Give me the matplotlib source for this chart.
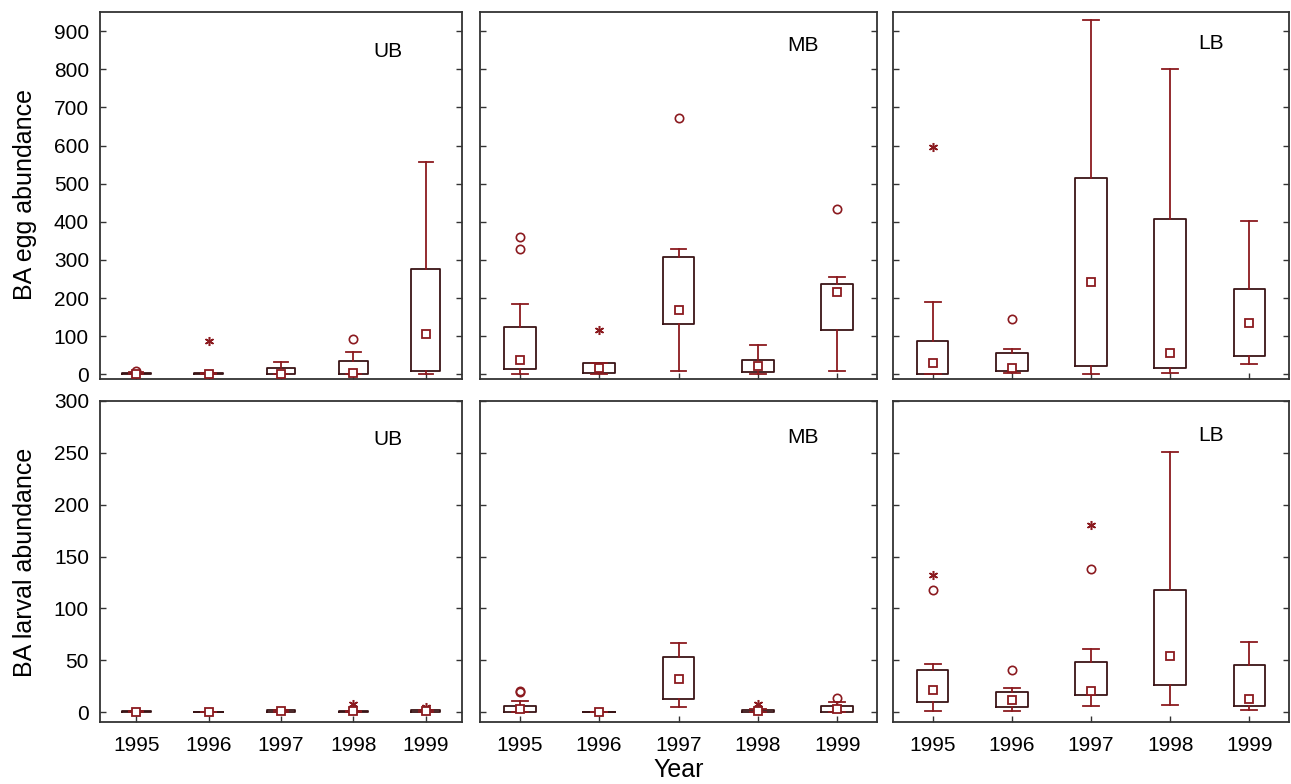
import numpy as np
import matplotlib.pyplot as plt

plt.rcParams['font.family'] = ['Liberation Sans', 'DejaVu Sans']

years = ["1995", "1996", "1997", "1998", "1999"]
basins = ["UB", "MB", "LB"]

# egg abundance: rows = UB, MB, LB ; cols = 1995..1999
egg_med = [[2, 1, 2, 3, 105], [39, 17, 170, 22, 216], [30, 17, 242, 57, 135]]
egg_q1 = [[0, 0, 1, 1, 10], [13, 4, 133, 7, 116], [1, 8, 21, 16, 48]]
egg_q3 = [[4, 3, 16, 34, 276], [124, 30, 308, 39, 236], [88, 56, 514, 407, 224]]
egg_lo = [[0, 0, 0, 0, 0], [1, 0, 10, 1, 8], [0, 5, 1, 3, 27]]
egg_hi = [[6, 3, 32, 60, 558], [185, 31, 330, 76, 255], [191, 66, 929, 801, 402]]
egg_out = [[[10], [], [], [92], []], [[360, 329], [], [673], [], [433]], [[], [146], [], [], []]]
egg_ext = [[[], [88], [], [], []], [[], [116], [], [], []], [[597], [], [], [], []]]

# larval abundance
lar_med = [[0, 0, 1, 1, 1], [3, 0, 32, 1, 3], [21.5, 12, 20, 54, 13]]
lar_q1 = [[0, 0, 0, 0, 0], [0, 0, 13, 0, 0], [10, 5, 17, 26, 6]]
lar_q3 = [[1, 0, 2, 1, 2], [6, 0, 53, 2, 5.5], [41, 19, 48, 118, 45]]
lar_lo = [[0, 0, 0, 0, 0], [0, 0, 5, 0, 0], [1, 1, 6, 7, 2]]
lar_hi = [[1, 0, 2, 1, 2], [11, 0, 67, 3, 10], [46, 23.5, 61, 251, 68]]
lar_out = [[[], [], [], [], []], [[20, 19], [], [], [], [13.5]], [[118], [40.5], [138], [], []]]
lar_ext = [[[], [], [], [8], [5]], [[], [], [], [8], []], [[132], [], [180], [], []]]

box_col = "#3a1416"
whisk_col = "#8b1a1f"

W, H = 1291, 784
cols_px = [(100, 462), (480, 877), (893, 1289)]
rows_px = [(12, 379), (401, 722)]
# basin label positions (axes fraction)
lab_x = [0.796, 0.814, 0.803]
lab_y = [[0.892, 0.908, 0.913], [0.879, 0.885, 0.891]]

fig = plt.figure(figsize=(W / 100, H / 100), dpi=100)


def draw_panel(ax, med, q1, q3, lo, hi, out, ext):
    stats = []
    for i in range(len(years)):
        stats.append(dict(med=med[i], q1=q1[i], q3=q3[i], whislo=lo[i],
                          whishi=hi[i], fliers=out[i], label=years[i]))
    ax.bxp(stats, positions=np.arange(1, 6), widths=0.4,
           boxprops=dict(color=box_col, linewidth=1.3),
           whiskerprops=dict(color=whisk_col, linewidth=1.3),
           capprops=dict(color=whisk_col, linewidth=1.3),
           medianprops=dict(visible=False),
           flierprops=dict(marker='o', markerfacecolor='none', markeredgecolor=whisk_col,
                           markersize=6, markeredgewidth=1.2),
           capwidths=0.2)
    ax.plot(np.arange(1, 6), med, linestyle='none', marker='s', markersize=6,
            markerfacecolor='white', markeredgecolor=whisk_col, markeredgewidth=1.3, zorder=5)
    for i, vals in enumerate(ext):
        if vals:
            ax.plot([i + 1] * len(vals), vals, linestyle='none', marker=(6, 2, 0),
                    markersize=6.5, color=whisk_col, markeredgewidth=1.1)


for r, (y0, y1) in enumerate(rows_px):
    for c, (x0, x1) in enumerate(cols_px):
        ax = fig.add_axes([x0 / W, 1 - y1 / H, (x1 - x0) / W, (y1 - y0) / H])
        if r == 0:
            draw_panel(ax, egg_med[c], egg_q1[c], egg_q3[c], egg_lo[c], egg_hi[c], egg_out[c], egg_ext[c])
            ax.set_ylim(-12, 950)
            ax.set_yticks(np.arange(0, 901, 100))
            ax.set_xticklabels([])
        else:
            draw_panel(ax, lar_med[c], lar_q1[c], lar_q3[c], lar_lo[c], lar_hi[c], lar_out[c], lar_ext[c])
            ax.set_ylim(-9.5, 300)
            ax.set_yticks(np.arange(0, 301, 50))
            ax.set_xticklabels(years)
        ax.set_xlim(0.5, 5.5)
        ax.tick_params(axis='both', direction='in', length=4, width=1, color='#333333',
                       labelsize=15, right=True, top=False)
        ax.tick_params(axis='x', pad=10)
        ax.tick_params(axis='y', pad=8)
        if c > 0:
            ax.set_yticklabels([])
        for s in ax.spines.values():
            s.set_color('#333333')
            s.set_linewidth(1.3)
        ax.text(lab_x[c], lab_y[r][c], basins[c], transform=ax.transAxes, fontsize=15,
                ha='center', va='center')

fig.text(25 / W, 1 - 195 / H, "BA egg abundance", rotation=90, fontsize=18,
         ha='center', va='center')
fig.text(25 / W, 1 - 562 / H, "BA larval abundance", rotation=90, fontsize=18,
         ha='center', va='center')
fig.text(679 / W, 1 - 770 / H, "Year", fontsize=18, ha='center', va='center')

fig.savefig("out.png", dpi=100)
